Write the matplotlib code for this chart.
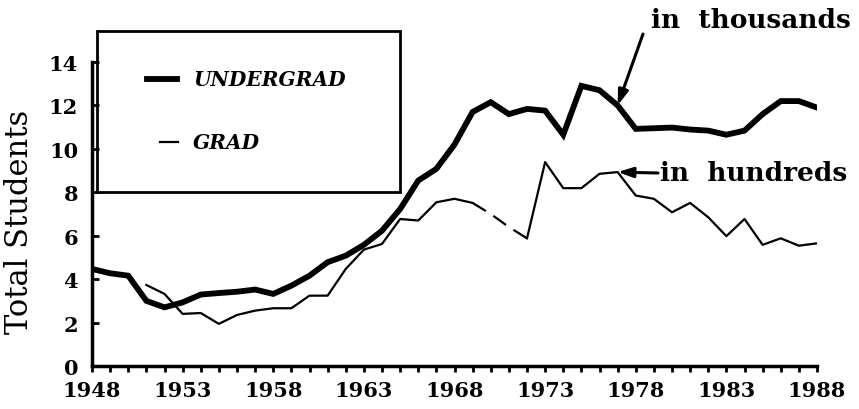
import matplotlib
matplotlib.use('Agg')
import matplotlib.pyplot as plt
from matplotlib.patches import Rectangle
from matplotlib.lines import Line2D
import numpy as np

years = list(range(1948, 1989))
undergrad = [4.47, 4.27, 4.16, 3.0, 2.7, 2.93, 3.29, 3.36, 3.42, 3.52,
             3.32, 3.7, 4.16, 4.78, 5.08, 5.58, 6.23, 7.23, 8.54, 9.08,
             10.2, 11.7, 12.15, 11.6, 11.84, 11.76, 10.65, 12.9, 12.7, 12.0,
             10.92, 10.95, 10.98, 10.89, 10.84, 10.65, 10.84, 11.6, 12.2, 12.2,
             11.9]

grad_years = list(range(1951, 1989))
grad = [3.73, 3.32, 2.4, 2.44, 1.94, 2.35, 2.55, 2.66, 2.66, 3.24,
        3.24, 4.47, 5.36, 5.62, 6.77, 6.7, 7.54, 7.7, 7.51, 7.0,
        6.4, 5.88, 9.39, 8.19, 8.19, 8.85, 8.93, 7.85, 7.7, 7.08,
        7.51, 6.85, 5.98, 6.77, 5.58, 5.88, 5.54, 5.65]
gap_start, gap_end = 1969, 1972   # no data, joined with dashes

W, H = 859, 410
fig = plt.figure(figsize=(W / 100, H / 100), dpi=100)
ax = fig.add_axes([92 / W, 1 - 367 / H, (817 - 92) / W, (367 - 63) / H])

gy = np.array(grad_years)
gv = np.array(grad)
a = gy <= gap_start
b = (gy >= gap_start) & (gy <= gap_end)
c = gy >= gap_end
ax.plot(years, undergrad, color='black', lw=4.2, solid_joinstyle='miter')
ax.plot(gy[a], gv[a], color='black', lw=1.6)
ax.plot(gy[b], gv[b], color='black', lw=1.6, ls=(0, (7, 4)))
ax.plot(gy[c], gv[c], color='black', lw=1.6)

ax.set_xlim(1948, 1988)
ax.set_ylim(0, 14)
ax.set_xticks(range(1948, 1989, 5))
ax.set_xticks(range(1948, 1989), minor=True)
ax.set_yticks(range(0, 15, 2))
for s in ['top', 'right']:
    ax.spines[s].set_visible(False)
for s in ['left', 'bottom']:
    ax.spines[s].set_linewidth(2.5)
ax.tick_params(axis='x', which='both', direction='out', length=4, width=2, pad=6)
ax.tick_params(axis='y', direction='in', length=5, width=2, pad=10)
tick_font = dict(family='DejaVu Serif', weight='bold', size=15)
ax.set_xticklabels([str(y) for y in range(1948, 1989, 5)], fontdict=tick_font)
ax.set_yticklabels([str(v) for v in range(0, 15, 2)], fontdict=tick_font)
ax.set_ylabel('Total Students', family='DejaVu Serif', size=22)
ax.yaxis.set_label_coords(-0.078, 0.477)

# legend box drawn by hand
fig.patches.append(Rectangle((97 / W, 1 - 193 / H), 303 / W, 161 / H,
                             transform=fig.transFigure, fill=False,
                             lw=2, ec='black'))
fig.lines.append(Line2D([147 / W, 177 / W], [1 - 80 / H] * 2,
                        transform=fig.transFigure, color='black', lw=4.2))
fig.lines.append(Line2D([160 / W, 178 / W], [1 - 143 / H] * 2,
                        transform=fig.transFigure, color='black', lw=1.6))
leg_font = dict(family='DejaVu Serif', weight='bold', style='italic', size=14.5)
fig.text(193 / W, 1 - 80 / H, 'UNDERGRAD', va='center', ha='left', **leg_font)
fig.text(193 / W, 1 - 143 / H, 'GRAD', va='center', ha='left', **leg_font)

# annotations
note_font = dict(family='DejaVu Serif', weight='bold', size=19)
fig.text(851 / W, 1 - 20 / H, 'in  thousands', ha='right', va='center', **note_font)
fig.text(660 / W, 1 - 174 / H, 'in  hundreds', ha='left', va='center', **note_font)
arrow = dict(arrowstyle='-|>,head_length=0.9,head_width=0.3', lw=2.2, color='black',
             shrinkA=0, shrinkB=0)
ax.annotate('', xy=(1977, undergrad[years.index(1977)]), xytext=(643, H - 35),
            textcoords='figure pixels', arrowprops=arrow)
ax.annotate('', xy=(1977, grad[grad_years.index(1977)]), xytext=(658, H - 174),
            textcoords='figure pixels', arrowprops=arrow)

plt.savefig('out.png', dpi=100)
